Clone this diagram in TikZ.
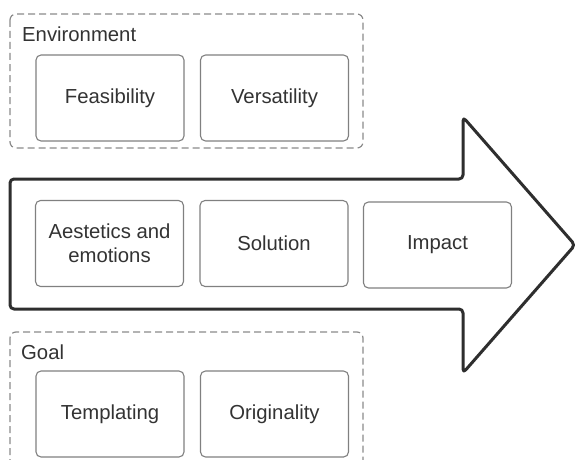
\documentclass[tikz,border=0pt]{standalone}
\usepackage{fontspec}
\setmainfont{Liberation Sans}
\definecolor{txt}{HTML}{333333}
\definecolor{boxline}{HTML}{808080}
\definecolor{dashline}{HTML}{8A8A8A}
\definecolor{arrowline}{HTML}{2E2E2E}
\tikzset{
  item/.style={draw=boxline, line width=1.1pt, rounded corners=5pt, fill=white,
    minimum width=148pt, minimum height=86pt, inner sep=0pt,
    text=txt, align=center, font=\fontsize{20.3}{24}\selectfont},
  groupbox/.style={draw=dashline, line width=1.2pt, dash pattern=on 7pt off 4pt, rounded corners=6pt},
  grouplabel/.style={anchor=base west, text=txt, inner sep=0pt, font=\fontsize{20.3}{24}\selectfont},
  bigarrow/.style={draw=arrowline, line width=3pt, rounded corners=4pt, fill=white, line join=round}
}
\begin{document}
\begin{tikzpicture}[x=1pt,y=-1pt]
\useasboundingbox (0,0) rectangle (575,460);
\clip (0,0) rectangle (575,460);
% main arrow
\draw[bigarrow] (10,179) -- (463,179) -- (463,117) -- (575,245) -- (463,373) -- (463,309) -- (10,309) -- cycle;
% group boxes
\draw[groupbox] (10,14) rectangle (363,148);
\node[grouplabel] (envlabel) at (22,41.5) {Environment};
\draw[groupbox] (10,332) rectangle (363,480);
\node[grouplabel] (goallabel) at (21,359) {Goal};
% items
\node[item] (feas) at (110,98) {Feasibility};
\node[item] (vers) at (274.5,98) {Versatility};
\node[item] (aest) at (109.5,243.5) {Aestetics and\\emotions};
\node[item] (sol) at (274,243.5) {Solution};
\node[item] (imp) at (437.5,245) {Impact};
\node[item] (templ) at (110,414) {Templating};
\node[item] (orig) at (274.5,414) {Originality};
\end{tikzpicture}
\end{document}
